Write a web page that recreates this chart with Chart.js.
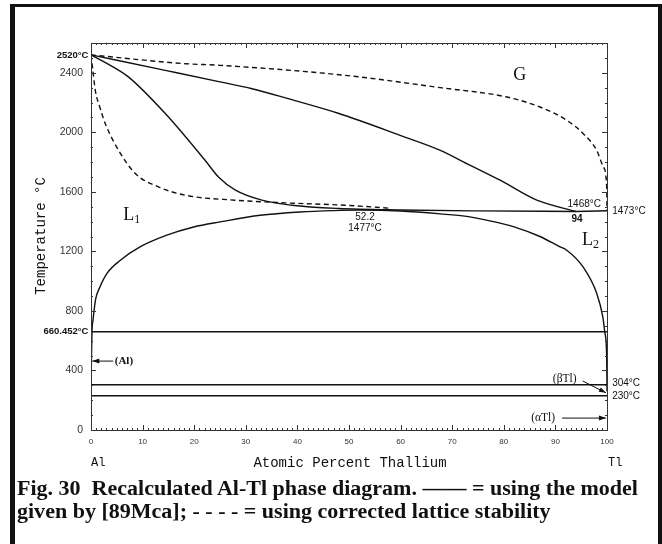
<!DOCTYPE html>
<html lang="en">
<head>
<meta charset="UTF-8">
<title>Al-Tl phase diagram</title>
<script src="https://cdn.jsdelivr.net/npm/chart.js"></script>
<style>
  body { margin: 0; background: #fff; }
  .page { position: relative; width: 662px; height: 544px; overflow: hidden; background: #fff; }
  .border {
    position: absolute; left: 10px; top: 4px; width: 643px; height: 600px;
    border-left: 5px solid #111; border-top: 3px solid #111; border-right: 4px solid #111;
  }
  canvas { position: absolute; left: 0; top: 0; }
  .caption {
    position: absolute; left: 17px; margin: 0;
    font-family: "Liberation Serif", serif; font-weight: bold; font-size: 20.5px;
    line-height: 20.5px; color: #111; white-space: nowrap; transform-origin: left top;
  }
</style>
</head>
<body>
<div class="page">
  <canvas id="chart" width="662" height="544"></canvas>
  <div class="border"></div>
  <div class="caption" id="cap1" style="top:478px">Fig. 30&nbsp; Recalculated Al-Tl phase diagram. —— = using the model</div>
  <div class="caption" id="cap2" style="top:501px">given by [89Mca]; - - - - = using corrected lattice stability</div>
</div>
<script>
// at.% Tl / temperature in °C

// G / L2 boundary (model of [89Mca], solid)
const gasL2X = [0, 14.4, 25.0, 31.2, 38.0, 47.9, 59.9, 67.7, 73.0, 79.3, 86.4, 94.0];
const gasL2Y = [2520, 2416, 2339, 2293, 2228, 2128, 1980, 1879, 1787, 1678, 1544, 1468];

// G / L1 boundary (solid)
const gasL1X = [0, 3.5, 7.3, 14.4, 22.1, 24.7, 28.0, 33.1, 38.9, 48.0, 60.0, 75.0, 94.0];
const gasL1Y = [2520, 2455, 2371, 2126, 1812, 1700, 1611, 1544, 1510, 1488, 1478, 1472, 1468];

// corrected lattice stability (dashed)
const dashUpX = [0, 18.3, 25.0, 49.2, 67.7, 80.6, 87.0, 92.2, 95.4, 98.0, 99.3, 99.94, 100];
const dashUpY = [2520, 2461, 2450, 2383, 2300, 2237, 2170, 2081, 1991, 1879, 1767, 1633, 1473];
const dashLowX = [0, 0.35, 0.83, 1.7, 2.77, 5.35, 8.58, 13.1, 18.3, 27.9, 37.6, 49.2, 58.0];
const dashLowY = [2520, 2420, 2282, 2170, 2058, 1879, 1723, 1633, 1577, 1544, 1526, 1510, 1490];

// L1 + L2 miscibility gap
const gapX = [0, 0.06, 0.19, 0.39, 0.9, 1.6, 3.1, 5.7, 9.5, 14.7, 19.9, 25.0, 32.8, 40.5, 46.9, 52.2,
  60.0, 67.7, 72.8, 77.3, 82.0, 87.0, 90.8, 92.2, 95.4, 98.0, 99.2, 99.6, 99.94, 100];
const gapY = [300, 425, 660, 738, 880, 950, 1052, 1141, 1230, 1309, 1364, 1398, 1443, 1465, 1474, 1477,
  1471, 1452, 1435, 1405, 1365, 1300, 1232, 1208, 1094, 919, 758, 651, 490, 260];

// invariant lines
const tieX = [94, 100];
const tieY = [1468, 1473];
const isoTemps = [660.452, 304, 230];

const xTicks = [0, 10, 20, 30, 40, 50, 60, 70, 80, 90, 100];
const yTicks = [0, 400, 800, 1200, 1600, 2000, 2400];

const pts = (xs, ys) => xs.map((x, i) => ({ x: x, y: ys[i] }));

const line = (xs, ys, dashed) => ({
  data: pts(xs, ys),
  showLine: true,
  borderColor: "#111",
  borderWidth: 1.4,
  borderDash: dashed ? [5, 3.5] : [],
  cubicInterpolationMode: "monotone",
  pointRadius: 0
});

const datasets = [
  line(gasL2X, gasL2Y, false),
  line(gasL1X, gasL1Y, false),
  line(dashUpX, dashUpY, true),
  line(dashLowX, dashLowY, true),
  line(gapX, gapY, false),
  line(tieX, tieY, false)
];
isoTemps.forEach(t => datasets.push(line([0, 100], [t, t], false)));

// labels on the diagram (data coordinates)
const notes = [
  { text: "G", x: 83.1, y: 2385, font: '18px "Liberation Serif"', align: "center" },
  { text: "52.2", x: 53.1, y: 1432, font: '10px "Liberation Sans"', align: "center" },
  { text: "1477°C", x: 53.1, y: 1355, font: '10px "Liberation Sans"', align: "center" },
  { text: "1468°C", x: 95.6, y: 1517, font: '10px "Liberation Sans"', align: "center" },
  { text: "94", x: 94.2, y: 1416, font: 'bold 10px "Liberation Sans"', align: "center" },
  { text: "1473°C", x: 101, y: 1468, font: '10px "Liberation Sans"', align: "left" },
  { text: "304°C", x: 101, y: 312, font: '10px "Liberation Sans"', align: "left" },
  { text: "230°C", x: 101, y: 226, font: '10px "Liberation Sans"', align: "left" },
  { text: "2520°C", x: -0.5, y: 2520, font: 'bold 9.5px "Liberation Sans"', align: "right" },
  { text: "660.452°C", x: -0.5, y: 660, font: 'bold 9.5px "Liberation Sans"', align: "right" },
  { text: "(Al)", x: 4.6, y: 463, font: 'bold 11px "Liberation Serif"', align: "left" },
  { text: "(βTl)", x: 89.5, y: 342, font: '11.5px "Liberation Serif"', align: "left" },
  { text: "(αTl)", x: 85.3, y: 80, font: '11.5px "Liberation Serif"', align: "left" },
  { text: "Al", x: 0, y: -221, font: '12px "Liberation Mono"', align: "left" },
  { text: "Tl", x: 100.2, y: -221, font: '12px "Liberation Mono"', align: "left" },
  { text: "Atomic Percent Thallium", x: 50.2, y: -221, font: '14px "Liberation Mono"', align: "center" }
];

const arrows = [
  { from: [4.3, 463], to: [0.25, 463] },
  { from: [95.3, 329], to: [99.8, 250] },
  { from: [91.3, 80], to: [99.8, 80] }
];

const drawArrow = (ctx, x1, y1, x2, y2) => {
  ctx.beginPath();
  ctx.moveTo(x1, y1);
  ctx.lineTo(x2, y2);
  ctx.stroke();
  const a = Math.atan2(y2 - y1, x2 - x1);
  ctx.beginPath();
  ctx.moveTo(x2, y2);
  ctx.lineTo(x2 - 7 * Math.cos(a) + 2.5 * Math.sin(a), y2 - 7 * Math.sin(a) - 2.5 * Math.cos(a));
  ctx.lineTo(x2 - 7 * Math.cos(a) - 2.5 * Math.sin(a), y2 - 7 * Math.sin(a) + 2.5 * Math.cos(a));
  ctx.closePath();
  ctx.fill();
};

const framePlugin = {
  id: "frame",
  beforeDraw(chart) {
    const ctx = chart.ctx;
    ctx.save();
    ctx.fillStyle = "#fff";
    ctx.fillRect(0, 0, chart.width, chart.height);
    ctx.restore();
  },
  afterDatasetsDraw(chart) {
    const { ctx, chartArea: a, scales: { x, y } } = chart;
    ctx.save();
    ctx.strokeStyle = "#333";
    ctx.lineWidth = 1;
    ctx.strokeRect(a.left + 0.5, a.top + 0.5, a.right - a.left, a.bottom - a.top);
    ctx.beginPath();
    for (let v = 0; v <= 100; v++) {
      const px = Math.round(x.getPixelForValue(v)) + 0.5;
      const len = v % 10 === 0 ? 5 : 2;
      ctx.moveTo(px, a.bottom); ctx.lineTo(px, a.bottom - len);
      ctx.moveTo(px, a.top); ctx.lineTo(px, a.top + len);
    }
    for (let v = 0; v <= 2600; v += 100) {
      const py = Math.round(y.getPixelForValue(v)) + 0.5;
      const len = v % 400 === 0 ? 5 : 2;
      ctx.moveTo(a.left, py); ctx.lineTo(a.left + len, py);
      ctx.moveTo(a.right, py); ctx.lineTo(a.right - len, py);
    }
    ctx.stroke();

    // annotations
    ctx.fillStyle = "#111";
    ctx.textBaseline = "middle";
    notes.forEach(n => {
      ctx.font = n.font;
      ctx.textAlign = n.align;
      ctx.fillText(n.text, x.getPixelForValue(n.x), y.getPixelForValue(n.y));
    });

    // phase labels with subscripts
    [["1", 7.6, 1443], ["2", 96.5, 1275]].forEach(([sub, vx, vy]) => {
      const px = x.getPixelForValue(vx), py = y.getPixelForValue(vy);
      ctx.textAlign = "left";
      ctx.font = '18px "Liberation Serif"';
      ctx.fillText("L", px - 7, py);
      ctx.font = '12px "Liberation Serif"';
      ctx.fillText(sub, px + 4, py + 5);
    });

    // axis title
    ctx.save();
    ctx.translate(41, 236);
    ctx.rotate(-Math.PI / 2);
    ctx.font = '14px "Liberation Mono"';
    ctx.textAlign = "center";
    ctx.fillText("Temperature °C", 0, 0);
    ctx.restore();

    ctx.strokeStyle = "#111";
    arrows.forEach(r => drawArrow(ctx,
      x.getPixelForValue(r.from[0]), y.getPixelForValue(r.from[1]),
      x.getPixelForValue(r.to[0]), y.getPixelForValue(r.to[1])));
    ctx.restore();
  }
};

new Chart(document.getElementById("chart"), {
  type: "scatter",
  data: { datasets: datasets },
  plugins: [framePlugin],
  options: {
    responsive: false,
    animation: false,
    layout: { padding: { left: 0, top: 43, right: 55, bottom: 0 } },
    plugins: { legend: { display: false }, tooltip: { enabled: false } },
    scales: {
      x: {
        type: "linear", min: 0, max: 100,
        afterFit: s => { s.height = 114; },
        afterBuildTicks: s => { s.ticks = xTicks.map(v => ({ value: v })); },
        grid: { display: false, drawTicks: false },
        border: { display: false },
        ticks: { padding: 7, color: "#333", font: { family: "Liberation Sans", size: 8 }, maxRotation: 0, autoSkip: false, callback: v => String(v) }
      },
      y: {
        type: "linear", min: 0, max: 2600,
        afterFit: s => { s.width = 91; },
        afterBuildTicks: s => { s.ticks = yTicks.map(v => ({ value: v })); },
        grid: { display: false, drawTicks: false },
        border: { display: false },
        ticks: { padding: 8, color: "#333", font: { family: "Liberation Sans", size: 10.5 }, autoSkip: false, callback: v => String(v) }
      }
    }
  }
});

// fit caption to the printed width
const cap1 = document.getElementById("cap1");
const cap2 = document.getElementById("cap2");
const k = 621 / cap1.getBoundingClientRect().width;
cap1.style.transform = "scaleX(" + k + ")";
cap2.style.transform = "scaleX(" + k + ")";
</script>
</body>
</html>
